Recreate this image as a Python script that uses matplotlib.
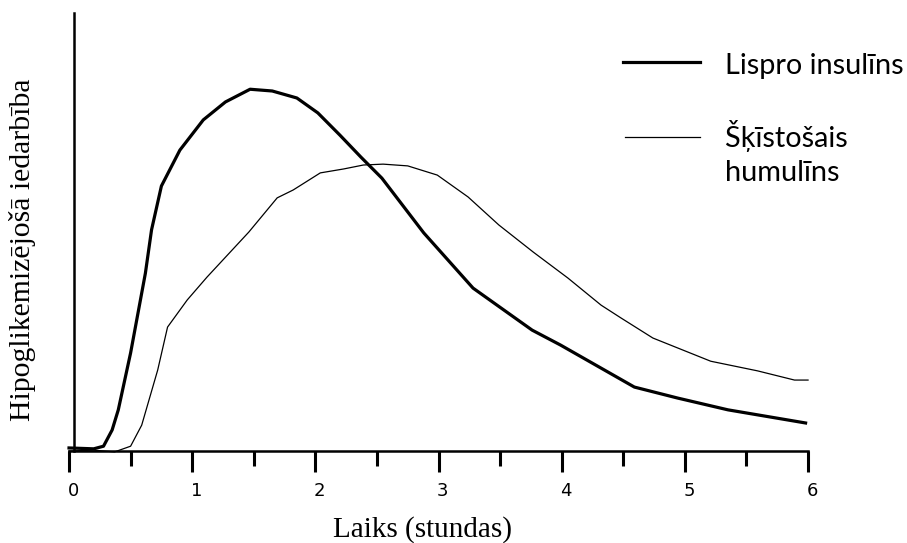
import matplotlib
matplotlib.use('Agg')
import matplotlib.pyplot as plt
from matplotlib.lines import Line2D
from matplotlib.transforms import ScaledTranslation

# laiks (stundas) un relatīvā iedarbība (nolasīts no attēla)
lispro_t = [0.0, 0.20, 0.28, 0.35, 0.40, 0.50, 0.62, 0.67, 0.75, 0.90, 1.09, 1.27,
            1.47, 1.65, 1.85, 2.02, 2.20, 2.37, 2.54, 2.88, 3.28, 3.76, 3.99, 4.59,
            4.94, 5.35, 5.98]
lispro_y = [0.7, 0.5, 1.1, 4.8, 9.4, 22.4, 40.6, 50.5, 60.5, 68.7, 75.6, 79.7,
            82.6, 82.2, 80.6, 77.2, 72.1, 67.1, 62.3, 49.8, 37.2, 27.6, 24.2, 14.6,
            12.1, 9.4, 6.4]

humulin_t = [0.0, 0.20, 0.37, 0.50, 0.59, 0.72, 0.80, 0.96, 1.12, 1.46, 1.69, 1.82,
             2.04, 2.23, 2.39, 2.55, 2.75, 2.99, 3.24, 3.49, 3.77, 4.05, 4.32, 4.48,
             4.74, 5.21, 5.59, 5.89, 6.0]
humulin_y = [0.0, 0.2, -0.2, 1.1, 5.9, 18.5, 28.3, 34.5, 39.7, 50.0, 57.8, 59.6,
             63.5, 64.4, 65.3, 65.5, 65.1, 63.0, 58.0, 51.6, 45.4, 39.5, 33.3, 30.4,
             25.8, 20.5, 18.3, 16.2, 16.2]

major_ticks = [0, 1, 2, 3, 4, 5, 6]
minor_ticks = [0.5, 1.5, 2.5, 3.5, 4.5, 5.5]

fig = plt.figure(figsize=(9.07, 5.43), dpi=100)
ax = fig.add_axes([0.0761, 0.1694, 0.8148, 0.8066])

ax.plot(lispro_t, lispro_y, color='black', linewidth=2.3, clip_on=False)
ax.plot(humulin_t, humulin_y, color='black', linewidth=0.9, clip_on=False)

ax.set_xlim(0, 6)
ax.set_ylim(0, 100)

for s in ['top', 'right']:
    ax.spines[s].set_visible(False)
ax.spines['left'].set_position(('data', 0.04))
ax.spines['left'].set_linewidth(1.8)
ax.spines['bottom'].set_linewidth(1.8)

ax.set_yticks([])
ax.set_xticks(major_ticks)
ax.set_xticks(minor_ticks, minor=True)
ax.set_xticklabels([str(t) for t in major_ticks], fontsize=13, family='DejaVu Sans')
ax.tick_params(axis='x', which='major', length=15, width=2.2, pad=7.5)
ax.tick_params(axis='x', which='minor', length=11, width=2.2)
for lbl in ax.get_xticklabels():
    lbl.set_transform(lbl.get_transform() + ScaledTranslation(4 / 100, 0, fig.dpi_scale_trans))

fig.text(0.4655, 1 - 537 / 543, 'Laiks (stundas)', family='Liberation Serif', fontsize=21,
         ha='center', va='baseline')
fig.text(0.025, 1 - 250 / 543, 'Hipoglikemizējošā iedarbība', family='Liberation Serif',
         fontsize=21.4, rotation=90, ha='center', va='center')

# leģenda
fig.add_artist(Line2D([0.687, 0.772], [0.8858, 0.8858], color='black', linewidth=2.3,
                      transform=fig.transFigure))
fig.add_artist(Line2D([0.689, 0.772], [0.7477, 0.7477], color='black', linewidth=0.9,
                      transform=fig.transFigure))
fig.text(0.7993, 1 - 74 / 543, 'Lispro insulīns', family='Lato', fontsize=20.8,
         va='baseline')
fig.text(0.7993, 1 - 147 / 543, 'Šķīstošais', family='Lato', fontsize=20.8,
         va='baseline')
fig.text(0.7993, 1 - 181 / 543, 'humulīns', family='Lato', fontsize=20.8,
         va='baseline')

fig.savefig('out.png', dpi=100)
